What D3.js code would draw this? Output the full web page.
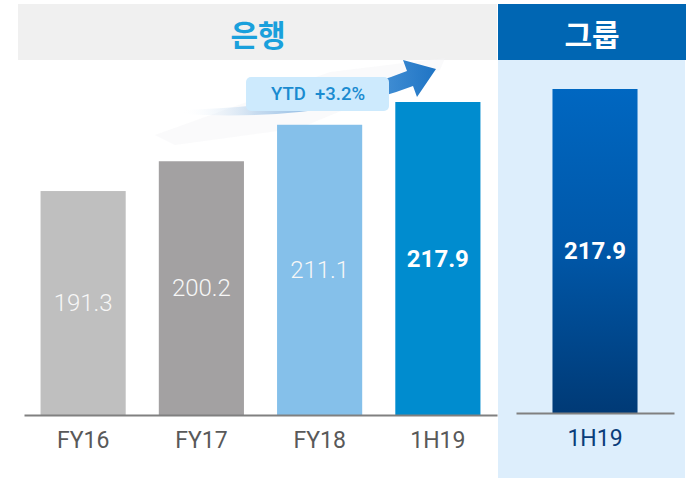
<!DOCTYPE html>
<html><head><meta charset="utf-8">
<script src="https://cdn.jsdelivr.net/npm/d3@7"></script>
<style>html,body{margin:0;padding:0;background:#fff;}svg{display:block;}</style>
</head><body>
<svg id="chart" width="689" height="478"></svg>
<script>
// ---- data ----
const bankCategories = ["FY16", "FY17", "FY18", "1H19"];
const bankValues = [191.3, 200.2, 211.1, 217.9];
const groupCategories = ["1H19"];
const groupValues = [217.9];
const bankTitle = "은행";
const groupTitle = "그룹";
const ytdLabel = "YTD  +3.2%";

// ---- styles ----
const bankColors = ["#bfbfbf", "#a3a1a2", "#85c0ea", "#008ccf"];
const bankLabelWeights = ["300", "300", "300", "700"];
const font = "Roboto, 'Noto Sans', sans-serif";

const svg = d3.select("#chart");
const defs = svg.append("defs");

// header + panel
svg.append("rect").attr("x", 18).attr("y", 4).attr("width", 479).attr("height", 56).attr("fill", "#f0f0f0");
svg.append("rect").attr("x", 498).attr("y", 4).attr("width", 188).attr("height", 56).attr("fill", "#0066b3");
svg.append("rect").attr("x", 498).attr("y", 60).attr("width", 187).attr("height", 418).attr("fill", "#ddeefc");
svg.append("text").attr("x", 258).attr("y", 33).attr("text-anchor", "middle").attr("dominant-baseline", "central")
  .attr("font-family", "'Noto Sans CJK KR', sans-serif").attr("font-weight", 700).attr("font-size", 30)
  .attr("fill", "#1aa0dc").text(bankTitle);
svg.append("text").attr("x", 592).attr("y", 33).attr("text-anchor", "middle").attr("dominant-baseline", "central")
  .attr("font-family", "'Noto Sans CJK KR', sans-serif").attr("font-weight", 700).attr("font-size", 30)
  .attr("fill", "#ffffff").text(groupTitle);

// scales
const yBank = d3.scaleLinear().domain([124.4, 217.9]).range([415, 102]);
const yGroup = d3.scaleLinear().domain([124.4, 217.9]).range([413, 89]);
const xBank = d3.scaleBand().domain(bankCategories).range([24, 497]).paddingInner(0.28).paddingOuter(0.14);
const xGroup = d3.scaleBand().domain(groupCategories).range([516, 674]).paddingInner(0).paddingOuter(0.429);

// swoosh shadow (very faint)
svg.append("path")
  .attr("d", "M155 135 L330 72 L445 58 L440 70 L300 128 L175 145 Z")
  .attr("fill", "#f3f4f6").attr("opacity", 0.45);

// arrow
const ag = defs.append("linearGradient").attr("id", "arrowGrad").attr("gradientUnits", "userSpaceOnUse")
  .attr("x1", 180).attr("y1", 0).attr("x2", 436).attr("y2", 0);
ag.append("stop").attr("offset", 0).attr("stop-color", "#ffffff").attr("stop-opacity", 0);
ag.append("stop").attr("offset", 0.3).attr("stop-color", "#b9d3ec").attr("stop-opacity", 0.8);
ag.append("stop").attr("offset", 0.82).attr("stop-color", "#3d8bd2");
ag.append("stop").attr("offset", 1).attr("stop-color", "#1f74c4");
svg.append("path")
  .attr("d", "M180 110 Q320 106 407 71 L403 60 L436 69 L417 97 L413 86 Q320 122 180 114 Z")
  .attr("fill", "url(#arrowGrad)");

// badge
svg.append("rect").attr("x", 246).attr("y", 77).attr("width", 143).attr("height", 34).attr("rx", 5)
  .attr("fill", "#cdeafd");
svg.append("text").attr("x", 318).attr("y", 94).attr("text-anchor", "middle").attr("dominant-baseline", "central")
  .attr("font-family", font).attr("font-weight", 500).attr("font-size", 18.5).attr("fill", "#1a8bd0")
  .attr("xml:space", "preserve").style("white-space", "pre").text(ytdLabel);

// bank bars
svg.append("g").selectAll("rect").data(bankValues).join("rect")
  .attr("x", (d, i) => xBank(bankCategories[i]))
  .attr("y", d => yBank(d))
  .attr("width", xBank.bandwidth())
  .attr("height", d => yBank(124.4) - yBank(d))
  .attr("fill", (d, i) => bankColors[i]);
svg.append("g").selectAll("text").data(bankValues).join("text")
  .attr("x", (d, i) => xBank(bankCategories[i]) + xBank.bandwidth() / 2)
  .attr("y", d => (yBank(d) + yBank(124.4)) / 2)
  .attr("text-anchor", "middle").attr("dominant-baseline", "central")
  .attr("font-family", font).attr("font-size", 24)
  .attr("font-weight", (d, i) => bankLabelWeights[i])
  .attr("fill", (d, i) => i === 3 ? "#ffffff" : "#f7f7f7")
  .text(d => d.toFixed(1));

// group bar
const gg = defs.append("linearGradient").attr("id", "groupGrad").attr("x1", 0).attr("y1", 0).attr("x2", 0).attr("y2", 1);
gg.append("stop").attr("offset", 0).attr("stop-color", "#0067c1");
gg.append("stop").attr("offset", 0.5).attr("stop-color", "#0057a8");
gg.append("stop").attr("offset", 1).attr("stop-color", "#003a76");
svg.append("g").selectAll("rect").data(groupValues).join("rect")
  .attr("x", (d, i) => xGroup(groupCategories[i]))
  .attr("y", d => yGroup(d))
  .attr("width", xGroup.bandwidth())
  .attr("height", d => yGroup(124.4) - yGroup(d))
  .attr("fill", "url(#groupGrad)");
svg.append("g").selectAll("text").data(groupValues).join("text")
  .attr("x", (d, i) => xGroup(groupCategories[i]) + xGroup.bandwidth() / 2)
  .attr("y", d => (yGroup(d) + yGroup(124.4)) / 2)
  .attr("text-anchor", "middle").attr("dominant-baseline", "central")
  .attr("font-family", font).attr("font-size", 24).attr("font-weight", 700)
  .attr("fill", "#ffffff").text(d => d.toFixed(1));

// axes
const axB = svg.append("g").attr("transform", "translate(0,415)")
  .call(d3.axisBottom(xBank).tickSize(0).tickPadding(17));
axB.select(".domain").attr("stroke", "#808080").attr("stroke-width", 2);
axB.selectAll("text").attr("font-family", font).attr("font-size", 23).attr("fill", "#595959");

const axG = svg.append("g").attr("transform", "translate(0,413)")
  .call(d3.axisBottom(xGroup).tickSize(0).tickPadding(17));
axG.select(".domain").attr("stroke", "#808080").attr("stroke-width", 2);
axG.selectAll("text").attr("font-family", font).attr("font-size", 23).attr("fill", "#0a3d7a");
</script>
</body></html>
